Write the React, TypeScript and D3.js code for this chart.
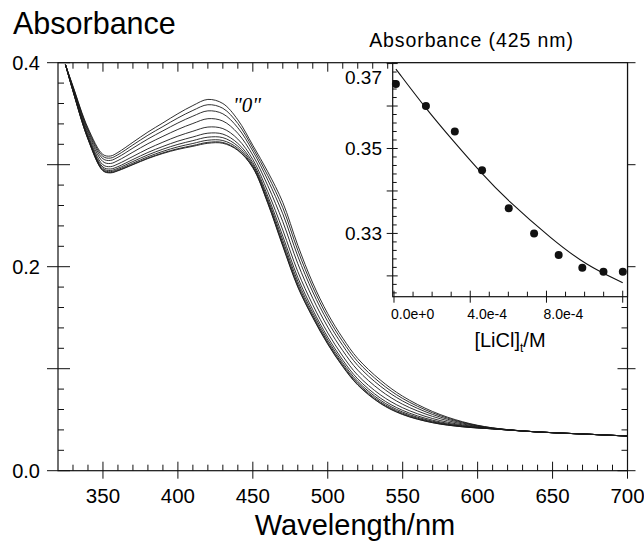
import * as d3 from 'd3';

// main spectra, absorbance vs wavelength (nm); curve "0" first
const wavelengths = [325, 330, 340, 350, 355, 360, 370, 380, 390, 400, 410, 420, 430, 440, 450, 460, 470, 480, 490, 500, 510, 520, 535, 550, 570, 590, 610, 640, 670, 700];
const spectrum0 = [0.398, 0.377, 0.336, 0.310, 0.3085, 0.312, 0.322, 0.332, 0.341, 0.350, 0.358, 0.364, 0.360, 0.344, 0.319, 0.293, 0.263, 0.221, 0.184, 0.154, 0.130, 0.110, 0.089, 0.073, 0.058, 0.048, 0.042, 0.038, 0.036, 0.034];
const spectrum1 = [0.398, 0.3764, 0.3347, 0.3081, 0.3065, 0.3098, 0.3194, 0.3289, 0.3374, 0.3458, 0.3532, 0.3588, 0.3553, 0.3404, 0.3164, 0.2893, 0.2578, 0.2161, 0.1799, 0.1504, 0.1266, 0.1069, 0.0862, 0.0708, 0.0567, 0.0474, 0.0419, 0.038, 0.036, 0.034];
const spectrum2 = [0.398, 0.3757, 0.3331, 0.3058, 0.3042, 0.3073, 0.3163, 0.3252, 0.3332, 0.3409, 0.3476, 0.3528, 0.3499, 0.3362, 0.3133, 0.2849, 0.2518, 0.2103, 0.1752, 0.1462, 0.1227, 0.1032, 0.083, 0.0683, 0.0551, 0.0467, 0.0417, 0.038, 0.036, 0.034];
const spectrum3 = [0.398, 0.3748, 0.3312, 0.303, 0.3012, 0.3041, 0.3123, 0.3206, 0.3278, 0.3346, 0.3404, 0.3451, 0.3428, 0.3308, 0.3093, 0.2794, 0.2441, 0.203, 0.169, 0.1408, 0.1177, 0.0986, 0.0789, 0.0651, 0.0532, 0.0458, 0.0416, 0.038, 0.036, 0.034];
const spectrum4 = [0.398, 0.3739, 0.3291, 0.2999, 0.2981, 0.3007, 0.3081, 0.3156, 0.3221, 0.328, 0.3328, 0.3369, 0.3354, 0.3251, 0.3051, 0.2735, 0.2359, 0.1952, 0.1626, 0.1351, 0.1124, 0.0936, 0.0745, 0.0617, 0.0511, 0.0449, 0.0414, 0.038, 0.036, 0.034];
const spectrum5 = [0.398, 0.3732, 0.3275, 0.2977, 0.2958, 0.2981, 0.3051, 0.312, 0.3179, 0.3231, 0.3272, 0.3309, 0.33, 0.3209, 0.3021, 0.2691, 0.2299, 0.1894, 0.1578, 0.1309, 0.1084, 0.09, 0.0713, 0.0591, 0.0495, 0.0442, 0.0412, 0.038, 0.036, 0.034];
const spectrum6 = [0.398, 0.3727, 0.3265, 0.2962, 0.2943, 0.2965, 0.3031, 0.3096, 0.3152, 0.3199, 0.3236, 0.327, 0.3265, 0.3182, 0.3001, 0.2663, 0.226, 0.1857, 0.1548, 0.1282, 0.1059, 0.0876, 0.0692, 0.0575, 0.0485, 0.0437, 0.0411, 0.038, 0.036, 0.034];
const spectrum7 = [0.398, 0.3724, 0.3258, 0.2951, 0.2932, 0.2953, 0.3015, 0.3078, 0.3131, 0.3175, 0.3208, 0.324, 0.3237, 0.3161, 0.2985, 0.2642, 0.223, 0.1829, 0.1524, 0.1261, 0.104, 0.0858, 0.0676, 0.0563, 0.0478, 0.0434, 0.041, 0.038, 0.036, 0.034];
const spectrum8 = [0.398, 0.3721, 0.3252, 0.2943, 0.2923, 0.2944, 0.3004, 0.3065, 0.3116, 0.3157, 0.3188, 0.3219, 0.3218, 0.3146, 0.2974, 0.2626, 0.2209, 0.1808, 0.1507, 0.1246, 0.1026, 0.0845, 0.0665, 0.0554, 0.0472, 0.0431, 0.041, 0.038, 0.036, 0.034];
const spectrum9 = [0.398, 0.372, 0.325, 0.294, 0.292, 0.294, 0.300, 0.306, 0.311, 0.315, 0.318, 0.321, 0.321, 0.314, 0.297, 0.262, 0.220, 0.180, 0.150, 0.124, 0.102, 0.084, 0.066, 0.055, 0.047, 0.043, 0.041, 0.038, 0.036, 0.034];
const spectra = [spectrum0, spectrum1, spectrum2, spectrum3, spectrum4, spectrum5, spectrum6, spectrum7, spectrum8, spectrum9];

// inset: absorbance at 425 nm vs [LiCl]t
const licl = [0.1e-4, 1.675e-4, 3.19e-4, 4.62e-4, 6.02e-4, 7.35e-4, 8.64e-4, 9.88e-4, 1.099e-3, 1.2005e-3];
const abs425 = [0.3652, 0.3600, 0.3540, 0.3449, 0.3359, 0.3300, 0.3249, 0.3219, 0.3210, 0.3210];
const fitConc = [0.1e-4, 1.67e-4, 3.1e-4, 4.6e-4, 5.9e-4, 8.34e-4, 1.009e-3, 1.2e-3];
const fitAbs = [0.3687, 0.3594, 0.3518, 0.3441, 0.3380, 0.3284, 0.3225, 0.3184];

const xMajor = [350, 400, 450, 500, 550, 600, 650, 700];
const yLabels = [0, 0.2, 0.4];
const insetYLabels = [0.37, 0.35, 0.33];
const insetXLabels = ['0.0e+0', '4.0e-4', '8.0e-4'];

const sans = '"Liberation Sans", Arial, sans-serif';
const ink = '#111';

export default function App() {
  const L = 58, R = 627.5, T = 62.7, B = 470.7;
  const x = d3.scaleLinear().domain([320, 700]).range([L, R]);
  const y = d3.scaleLinear().domain([0, 0.4]).range([B, T]);

  // inset frame
  const iL = 392.7, iR = R, iT = T, iB = 296.7;
  const ix = d3.scaleLinear().domain([-6.8e-6, 1.2251e-3]).range([iL, iR]);
  const iy = d3.scaleLinear().domain([0.3151, 0.3702]).range([iB, iT]);

  const line = d3.line<number>()
    .x((_, i) => x(wavelengths[i]))
    .y(d => y(d))
    .curve(d3.curveCatmullRom.alpha(0.5));
  const fitLine = d3.line<number>()
    .x((_, i) => ix(fitConc[i]))
    .y(d => iy(d))
    .curve(d3.curveBasis);

  const xMinor = d3.range(330, 700, 10).filter(v => v % 50 !== 0);
  const yMinor = d3.range(0.02, 0.4, 0.02).filter(v => Math.abs(v * 10 - Math.round(v * 10)) > 1e-6);
  const yMajor = d3.range(0, 0.41, 0.1);
  const ixMajor = [0, 4e-4, 8e-4, 1.2e-3];
  const ixMinor = d3.range(1e-4, 1.2e-3, 1e-4).filter((_, i) => (i + 1) % 4 !== 0);
  const iyMajor = [0.32, 0.33, 0.34, 0.35, 0.36, 0.37];
  const iyMinor = d3.range(0.316, 0.3702, 0.002).filter(v => Math.abs(v * 100 - Math.round(v * 100)) > 1e-6);

  const tk = { stroke: ink, strokeWidth: 1 };

  return (
    <svg width={644} height={541} style={{ position: 'absolute', left: 0, top: 0, background: '#fff' }}>
      <text x={13} y={34} fontFamily={sans} fontSize={30.5}>Absorbance</text>

      {spectra.map((s, i) => (
        <path key={i} d={line(s) || ''} fill="none" stroke="#1a1a1a" strokeWidth={0.9} />
      ))}
      <text x={233} y={112} fontFamily='"Liberation Serif", "Times New Roman", serif' fontStyle="italic" fontSize={21}>"0"</text>

      {/* main frame and ticks */}
      <rect x={L} y={T} width={R - L} height={B - T} fill="none" stroke={ink} strokeWidth={1.2} />
      {xMinor.map(v => (
        <g key={'xm' + v}>
          <line x1={x(v)} x2={x(v)} y1={B} y2={B - 6} {...tk} />
          <line x1={x(v)} x2={x(v)} y1={T} y2={T + 6} {...tk} />
        </g>
      ))}
      {xMajor.map(v => (
        <g key={'xM' + v}>
          <line x1={x(v)} x2={x(v)} y1={B - 9} y2={B + 8} {...tk} />
          <line x1={x(v)} x2={x(v)} y1={T} y2={T + 9} {...tk} />
          <text x={x(v)} y={503} textAnchor="middle" fontFamily={sans} fontSize={20.5}>{v}</text>
        </g>
      ))}
      {yMinor.map(v => (
        <g key={'ym' + v}>
          <line x1={L} x2={L + 6} y1={y(v)} y2={y(v)} {...tk} />
          <line x1={R} x2={R - 6} y1={y(v)} y2={y(v)} {...tk} />
        </g>
      ))}
      {yMajor.map(v => (
        <g key={'yM' + v}>
          <line x1={L - 11} x2={L + 12} y1={y(v)} y2={y(v)} {...tk} />
          <line x1={R - 10} x2={R + 8} y1={y(v)} y2={y(v)} {...tk} />
        </g>
      ))}
      {yLabels.map(v => (
        <text key={'yl' + v} x={40} y={y(v)} dy="0.36em" textAnchor="end" fontFamily={sans} fontSize={20}>{v.toFixed(1)}</text>
      ))}
      <text x={355} y={535} textAnchor="middle" fontFamily={sans} fontSize={29}>Wavelength/nm</text>

      {/* inset */}
      <rect x={iL} y={iT} width={iR - iL} height={iB - iT} fill="#fff" stroke={ink} strokeWidth={1.2} />
      <text x={471.5} y={46.5} textAnchor="middle" fontFamily={sans} fontSize={19.5} letterSpacing={0.9}>Absorbance (425 nm)</text>
      {ixMinor.map(v => (
        <line key={'ixm' + v} x1={ix(v)} x2={ix(v)} y1={iB} y2={iB - 5} {...tk} />
      ))}
      {ixMajor.map(v => (
        <line key={'ixM' + v} x1={ix(v)} x2={ix(v)} y1={iB - 6} y2={iB + 6} {...tk} />
      ))}
      {insetXLabels.map((t, i) => (
        <text key={t} x={ix(ixMajor[i]) - 3} y={319} fontFamily={sans} fontSize={14}>{t}</text>
      ))}
      {iyMinor.map(v => (
        <line key={'iym' + v} x1={iL} x2={iL + 4} y1={iy(v)} y2={iy(v)} {...tk} />
      ))}
      {iyMajor.map(v => (
        <line key={'iyM' + v} x1={iL - 6} x2={iL + 5} y1={iy(v)} y2={iy(v)} {...tk} />
      ))}
      {insetYLabels.map(v => (
        <text key={'iyl' + v} x={382} y={Math.max(iy(v), iT + 14)} dy="0.36em" textAnchor="end" fontFamily={sans} fontSize={19}>{v.toFixed(2)}</text>
      ))}
      <text x={510} y={347} textAnchor="middle" fontFamily={sans} fontSize={20}>
        [LiCl]<tspan fontSize={12} dy={5}>t</tspan><tspan dy={-5}>/M</tspan>
      </text>
      <path d={fitLine(fitAbs) || ''} fill="none" stroke={ink} strokeWidth={1.1} />
      {licl.map((c, i) => (
        <circle key={'pt' + i} cx={ix(c)} cy={iy(abs425[i])} r={4} fill={ink} />
      ))}
    </svg>
  );
}
